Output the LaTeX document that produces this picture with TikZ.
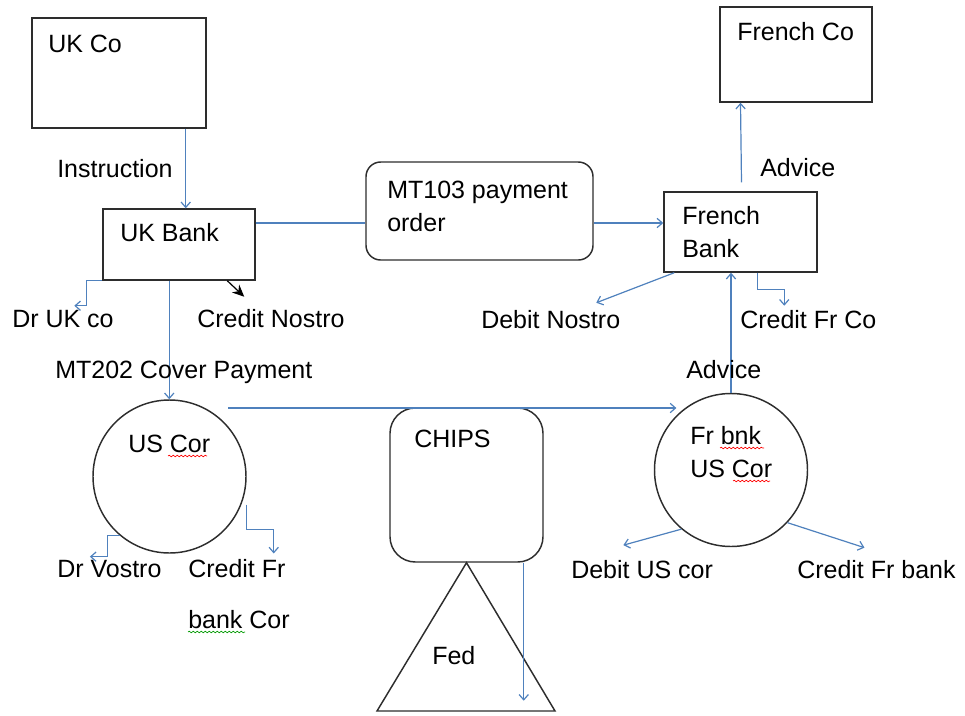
\documentclass[tikz,border=0pt]{standalone}
\usepackage{fontspec}
\setmainfont{Liberation Sans}
\usetikzlibrary{arrows.meta,calc,decorations.pathmorphing}
\definecolor{lineblue}{RGB}{79,129,189}
\definecolor{boxline}{RGB}{45,45,45}
\begin{document}
\begin{tikzpicture}[
    x=0.75pt, y=-0.75pt,
    box/.style={rectangle, draw=boxline, line width=1.1pt, inner sep=0pt},
    roundbox/.style={box, rounded corners=#1},
    corr/.style={circle, draw=boxline, line width=1.1pt, inner sep=0pt, minimum size=114.75pt},
    txt/.style={anchor=base west, inner sep=0pt, font=\fontsize{18.75}{24}\selectfont},
    flow/.style={draw=lineblue, line width=0.9pt, -{Straight Barb[length=4pt,width=7pt]}},
    plain/.style={draw=lineblue, line width=0.9pt},
    spell/.style={decorate, decoration={snake, amplitude=0.6pt, segment length=3pt}, line width=0.5pt, draw=#1}
]
\useasboundingbox (0,0) rectangle (965,715);

\node[box, minimum width=130.5pt, minimum height=82.5pt] (ukco) at (119,73) {};
\node[box, minimum width=114pt, minimum height=53.25pt] (ukbank) at (179,244.5) {};
\node[roundbox=11pt, minimum width=170.25pt, minimum height=73.5pt] (mt) at (479.5,211) {};
\node[box, minimum width=114.75pt, minimum height=60pt] (frbank) at (740.5,232) {};
\node[box, minimum width=114pt, minimum height=71.25pt] (frco) at (796,54.5) {};
\node[roundbox=19pt, minimum width=114.75pt, minimum height=115.5pt] (chips) at (466.5,485) {};
\node[corr] (uscor) at (169.5,476.5) {};
\node[corr] (frcor) at (731,470) {};
\coordinate (fedtop) at (chips.south);
\draw[boxline, line width=1.1pt] (fedtop) -- (377,711) -- (555,711) -- cycle;

\node[txt] (ukcot) at (48,52) {UK Co};
\node[txt] (instr) at (57,177) {Instruction};
\node[txt] (ukbankt) at (120,241) {UK Bank};
\node[txt] (druk) at (12,327) {Dr UK co};
\node[txt] (crnostro) at (197,327) {Credit Nostro};
\node[txt] (mtA) at (387,198) {MT103 payment};
\node[txt] (mtB) at (387,231) {order};
\node[txt] (frbankA) at (682,224) {French};
\node[txt] (frbankB) at (682,257) {Bank};
\node[txt] (frcot) at (737,40) {French Co};
\node[txt] (adviceA) at (760,176) {Advice};
\node[txt] (drnostro) at (481,328) {Debit Nostro};
\node[txt] (crfrco) at (740,328) {Credit Fr Co};
\node[txt] (uscort) at (128,452) {US Cor};
\node[txt] (frcorA) at (690,444) {Fr bnk};
\node[txt] (frcorB) at (690,477) {US Cor};
\node[txt] (chipst) at (414,447) {CHIPS};
\node[txt] (drvostro) at (57,577) {Dr Vostro};
\node[txt] (crfrA) at (188,577) {Credit Fr};
\node[txt] (crfrB) at (188,628) {bank Cor};
\node[txt] (drus) at (571,578) {Debit US cor};
\node[txt] (crfrbank) at (797,578) {Credit Fr bank};
\node[txt] (fedt) at (432,664) {Fed};

\coordinate (msg) at (0,223);
\coordinate (instrx) at ($(ukco.south east)+(-21,0)$);
\coordinate (cov) at ($(ukbank.south west)+(67,0)$);
\coordinate (cover) at (228,408);

\draw[flow] (instrx) -- (instrx |- ukbank.north);
\draw[plain] (ukbank.east |- msg) -- (mt.west |- msg);
\draw[flow] (mt.east |- msg) -- (frbank.west |- msg);
\draw[flow] ($(frbank.north)+(1,-9)$) -- (frbank.north |- frco.south);
\draw[flow] (ukbank.south west) -- ++(-16,0) -- ++(0,25) -- ++(-12,0);
\draw[black, line width=0.9pt, -{Stealth[length=9pt,width=8pt]}] ($(ukbank.south west)+(125,0)$) -- ++(17,16);
\draw[flow] (cov) -- (cov |- uscor.north);
\draw[flow] (cover) -- (cover -| frcor.north west);
\draw[flow] (frcor.north) -- (frcor.north |- frbank.south);
\draw[flow] ($(frbank.south west)+(11,0)$) -- ++(-78,30);
\draw[flow] ($(frbank.south west)+(94,0)$) -- ++(0,17) -- ++(27,0) -- ++(0,16);
\draw[flow] (uscor.230) -- ++(-12,0) -- ++(0,21) -- ++(-18,0);
\draw[flow] ($(uscor.east)+(0,28)$) -- ++(0,25) -- ++(27,0) -- ++(0,24);
\draw[flow] (frcor.230) -- ++(-58,16);
\draw[flow] (frcor.317) -- ++(77,25);
\draw[flow] ($(chips.south east)+(-20,0)$) -- ++(0,138);

\node[txt] (cover payment) at (55,378) {MT202 Cover Payment};
\node[txt] (adviceB) at (686,378) {Advice};

\draw[spell=red] (168,456) -- (207,456);
\draw[spell=red] (720,448) -- (764,448);
\draw[spell=red] (733,481) -- (770,481);
\draw[spell=green!60!black] (188,632) -- (245,632);

\end{tikzpicture}
\end{document}
